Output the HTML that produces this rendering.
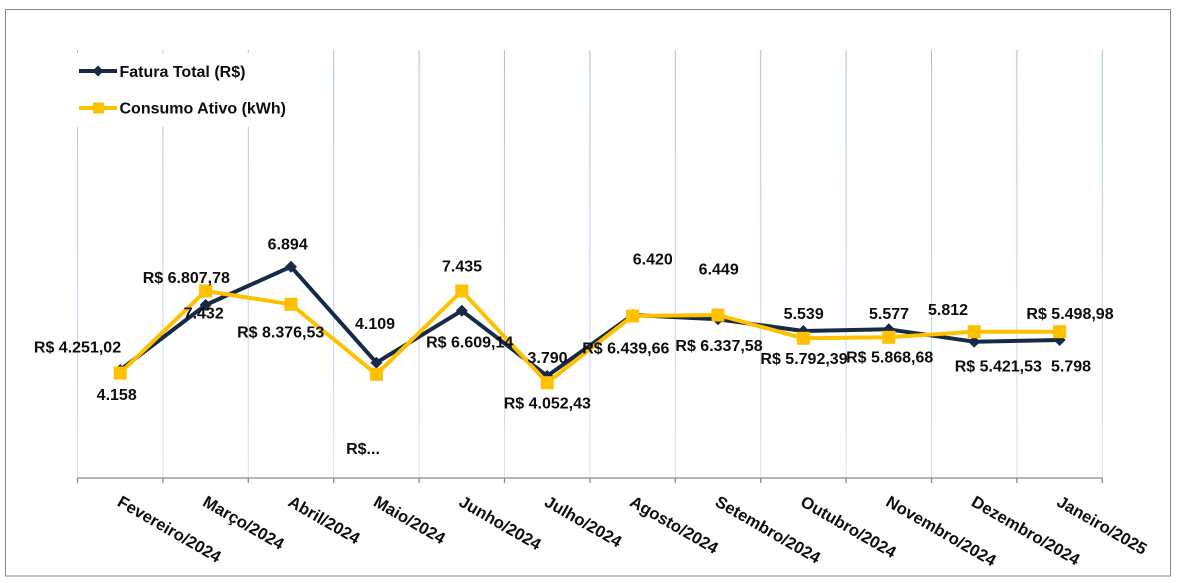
<!DOCTYPE html>
<html>
<head>
<meta charset="utf-8">
<style>
  html,body{margin:0;padding:0;background:#fff;}
  svg{display:block;}
  text{font-family:"Liberation Sans",Arial,sans-serif;font-weight:bold;font-size:16px;fill:#0d0d0d;}
  .cat{font-size:16.6px;}
</style>
</head>
<body>
<svg width="1178" height="583" viewBox="0 0 1178 583" xmlns="http://www.w3.org/2000/svg">
  <defs>
    <linearGradient id="gl" x1="0" y1="50" x2="0" y2="478" gradientUnits="userSpaceOnUse">
      <stop offset="0" stop-color="#a9c0e8"/>
      <stop offset="1" stop-color="#d8e2f2"/>
    </linearGradient>
  </defs>
  <rect x="0" y="0" width="1178" height="583" fill="#fff"/>
  <rect x="5.5" y="9.5" width="1165" height="566.5" fill="#fff" stroke="#878787" stroke-width="1"/>

  <!-- gridlines -->
  <g stroke="url(#gl)" stroke-width="1">
    <line x1="77.5" y1="50" x2="77.5" y2="478"/>
    <line x1="162.9" y1="50" x2="162.9" y2="478"/>
    <line x1="248.3" y1="50" x2="248.3" y2="478"/>
    <line x1="333.7" y1="50" x2="333.7" y2="478"/>
    <line x1="419.1" y1="50" x2="419.1" y2="478"/>
    <line x1="504.5" y1="50" x2="504.5" y2="478"/>
    <line x1="589.9" y1="50" x2="589.9" y2="478"/>
    <line x1="675.3" y1="50" x2="675.3" y2="478"/>
    <line x1="760.7" y1="50" x2="760.7" y2="478"/>
    <line x1="846.1" y1="50" x2="846.1" y2="478"/>
    <line x1="931.5" y1="50" x2="931.5" y2="478"/>
    <line x1="1016.9" y1="50" x2="1016.9" y2="478"/>
    <line x1="1102.3" y1="50" x2="1102.3" y2="478"/>
  </g>

  <!-- legend background -->
  <rect x="74" y="53" width="218" height="74" fill="#fff"/>

  <!-- axis -->
  <g stroke="#8a8a8a" stroke-width="1.3">
    <line x1="77.5" y1="478" x2="1102.3" y2="478"/>
    <line x1="77.5" y1="478" x2="77.5" y2="483"/>
    <line x1="162.9" y1="478" x2="162.9" y2="483"/>
    <line x1="248.3" y1="478" x2="248.3" y2="483"/>
    <line x1="333.7" y1="478" x2="333.7" y2="483"/>
    <line x1="419.1" y1="478" x2="419.1" y2="483"/>
    <line x1="504.5" y1="478" x2="504.5" y2="483"/>
    <line x1="589.9" y1="478" x2="589.9" y2="483"/>
    <line x1="675.3" y1="478" x2="675.3" y2="483"/>
    <line x1="760.7" y1="478" x2="760.7" y2="483"/>
    <line x1="846.1" y1="478" x2="846.1" y2="483"/>
    <line x1="931.5" y1="478" x2="931.5" y2="483"/>
    <line x1="1016.9" y1="478" x2="1016.9" y2="483"/>
    <line x1="1102.3" y1="478" x2="1102.3" y2="483"/>
  </g>

  <!-- navy series -->
  <polyline fill="none" stroke="#172a45" stroke-width="4" stroke-linejoin="round"
    points="120.2,370 205.6,305 291,266.7 376.4,362.7 461.8,310.7 547.2,376 632.6,315 718,319.3 803.4,331 888.8,329.3 974.2,341.7 1059.6,340"/>
  <g fill="#172a45">
    <polygon points="120.2,364 126.2,370 120.2,376 114.2,370"/>
    <polygon points="205.6,299 211.6,305 205.6,311 199.6,305"/>
    <polygon points="291,260.7 297,266.7 291,272.7 285,266.7"/>
    <polygon points="376.4,356.7 382.4,362.7 376.4,368.7 370.4,362.7"/>
    <polygon points="461.8,304.7 467.8,310.7 461.8,316.7 455.8,310.7"/>
    <polygon points="547.2,370 553.2,376 547.2,382 541.2,376"/>
    <polygon points="632.6,309 638.6,315 632.6,321 626.6,315"/>
    <polygon points="718,313.3 724,319.3 718,325.3 712,319.3"/>
    <polygon points="803.4,325 809.4,331 803.4,337 797.4,331"/>
    <polygon points="888.8,323.3 894.8,329.3 888.8,335.3 882.8,329.3"/>
    <polygon points="974.2,335.7 980.2,341.7 974.2,347.7 968.2,341.7"/>
    <polygon points="1059.6,334 1065.6,340 1059.6,346 1053.6,340"/>
  </g>

  <!-- yellow series -->
  <polyline fill="none" stroke="#ffc000" stroke-width="4" stroke-linejoin="round"
    points="120.2,373 205.6,291 291,304.3 376.4,374.3 461.8,291 547.2,382.7 632.6,316 718,315 803.4,338.3 888.8,337.3 974.2,331.7 1059.6,331.7"/>
  <g fill="#ffc000">
    <rect x="113.7" y="366.5" width="13" height="13"/>
    <rect x="199.1" y="284.5" width="13" height="13"/>
    <rect x="284.5" y="297.8" width="13" height="13"/>
    <rect x="369.9" y="367.8" width="13" height="13"/>
    <rect x="455.3" y="284.5" width="13" height="13"/>
    <rect x="540.7" y="376.2" width="13" height="13"/>
    <rect x="626.1" y="309.5" width="13" height="13"/>
    <rect x="711.5" y="308.5" width="13" height="13"/>
    <rect x="796.9" y="331.8" width="13" height="13"/>
    <rect x="882.3" y="330.8" width="13" height="13"/>
    <rect x="967.7" y="325.2" width="13" height="13"/>
    <rect x="1053.1" y="325.2" width="13" height="13"/>
  </g>

  <!-- legend -->
  <line x1="79" y1="71" x2="117" y2="71" stroke="#172a45" stroke-width="4"/>
  <polygon points="98,65.5 103.5,71 98,76.5 92.5,71" fill="#172a45"/>
  <text x="119.5" y="77">Fatura Total (R$)</text>
  <line x1="79" y1="108" x2="117" y2="108" stroke="#ffc000" stroke-width="4"/>
  <rect x="93" y="102.5" width="11" height="11" fill="#ffc000"/>
  <text x="119.5" y="113.5">Consumo Ativo (kWh)</text>

  <!-- data labels -->
  <g text-anchor="middle">
    <text x="77.5" y="352.5">R$ 4.251,02</text>
    <text x="116.7" y="400">4.158</text>
    <text x="186.3" y="283">R$ 6.807,78</text>
    <text x="203.7" y="318.5">7.432</text>
    <text x="287.7" y="249.5">6.894</text>
    <text x="280.7" y="337.5">R$ 8.376,53</text>
    <text x="375" y="329">4.109</text>
    <text x="363" y="454">R$...</text>
    <text x="462" y="271.5">7.435</text>
    <text x="469.7" y="347.5">R$ 6.609,14</text>
    <text x="547.5" y="363">3.790</text>
    <text x="547.3" y="408.5">R$ 4.052,43</text>
    <text x="625.8" y="353.5">R$ 6.439,66</text>
    <text x="652.8" y="264.5">6.420</text>
    <text x="718.7" y="274.5">6.449</text>
    <text x="719" y="351">R$ 6.337,58</text>
    <text x="803.7" y="319">5.539</text>
    <text x="804" y="364">R$ 5.792,39</text>
    <text x="889" y="319">5.577</text>
    <text x="889.7" y="362.5">R$ 5.868,68</text>
    <text x="948" y="315">5.812</text>
    <text x="998.3" y="371.5">R$ 5.421,53</text>
    <text x="1071" y="371.5">5.798</text>
    <text x="1070" y="319">R$ 5.498,98</text>
  </g>

  <!-- category labels -->
  <g class="cat">
    <text class="cat" transform="translate(116.2,505) rotate(30)">Fevereiro/2024</text>
    <text class="cat" transform="translate(201.6,505) rotate(30)">Março/2024</text>
    <text class="cat" transform="translate(287,505) rotate(30)">Abril/2024</text>
    <text class="cat" transform="translate(372.4,505) rotate(30)">Maio/2024</text>
    <text class="cat" transform="translate(457.8,505) rotate(30)">Junho/2024</text>
    <text class="cat" transform="translate(543.2,505) rotate(30)">Julho/2024</text>
    <text class="cat" transform="translate(628.6,505) rotate(30)">Agosto/2024</text>
    <text class="cat" transform="translate(714,505) rotate(30)">Setembro/2024</text>
    <text class="cat" transform="translate(799.4,505) rotate(30)">Outubro/2024</text>
    <text class="cat" transform="translate(884.8,505) rotate(30)">Novembro/2024</text>
    <text class="cat" transform="translate(970.2,505) rotate(30)">Dezembro/2024</text>
    <text class="cat" transform="translate(1055.6,505) rotate(30)">Janeiro/2025</text>
  </g>
</svg>
</body>
</html>
